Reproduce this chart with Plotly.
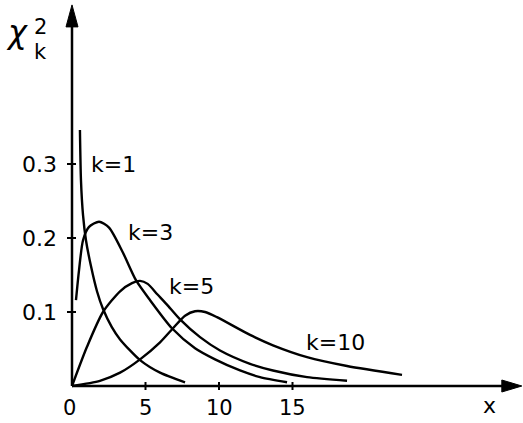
import plotly.graph_objects as go

# Chi-squared densities for k = 1, 3, 5, 10
k1_x = [0.54, 0.61, 0.75, 0.95, 1.29, 1.70, 2.11, 2.70, 3.27, 4.63, 5.99, 7.69]
k1_y = [0.346, 0.278, 0.231, 0.197, 0.162, 0.128, 0.104, 0.080, 0.063, 0.035, 0.018, 0.005]

k3_x = [0.27, 0.48, 0.75, 1.16, 1.84, 2.52, 3.47, 4.35, 5.31, 6.80, 8.37, 9.73, 11.43, 12.79, 14.63]
k3_y = [0.116, 0.157, 0.197, 0.215, 0.222, 0.214, 0.180, 0.143, 0.116, 0.078, 0.051, 0.036, 0.021, 0.012, 0.005]

k5_x = [0.0, 1.02, 2.11, 3.27, 4.08, 4.63, 5.15, 5.80, 6.46, 7.35, 8.71, 10.07, 12.11, 13.67, 15.99, 18.71]
k5_y = [0.0, 0.053, 0.100, 0.128, 0.139, 0.142, 0.138, 0.124, 0.110, 0.090, 0.066, 0.048, 0.030, 0.021, 0.012, 0.007]

k10_x = [0.0, 1.90, 3.27, 4.63, 5.99, 6.87, 7.69, 8.37, 9.05, 9.86, 12.11, 13.67, 15.99, 18.71, 22.45]
k10_y = [0.0, 0.007, 0.018, 0.036, 0.059, 0.078, 0.095, 0.101, 0.100, 0.093, 0.069, 0.055, 0.039, 0.027, 0.015]

curves = [
    ("k=1", k1_x, k1_y, (2.79, 0.300)),
    ("k=3", k3_x, k3_y, (5.37, 0.208)),
    ("k=5", k5_x, k5_y, (8.10, 0.134)),
    ("k=10", k10_x, k10_y, (17.9, 0.059)),
]

x_ticks = [0, 5, 10, 15]
x_tick_labels = ["0", "5", "10", "15"]
y_ticks = [0.1, 0.2, 0.3]
y_tick_labels = ["0.1", "0.2", "0.3"]

# axis extents in data units
X_END = 30.6
Y_END = 0.515

# pixel scale of the drawing
PX_PER_X = 14.7
PX_PER_Y = 740.0
W, H = 523, 423
X0_PX, Y0_PX = 72, 386

FONT = "DejaVu Sans"
INK = "black"

fig = go.Figure()

for name, xs, ys, _ in curves:
    fig.add_trace(go.Scatter(
        x=xs, y=ys, mode="lines", name=name,
        line=dict(color=INK, width=2.4, shape="spline", smoothing=0.7),
        hoverinfo="skip", showlegend=False,
    ))

shapes = []
# axes
shapes.append(dict(type="line", xref="x", yref="y", x0=0, y0=0, x1=X_END - 0.8, y1=0,
                   line=dict(color=INK, width=2.5)))
shapes.append(dict(type="line", xref="x", yref="y", x0=0, y0=0, x1=0, y1=Y_END - 0.02,
                   line=dict(color=INK, width=2.5)))
# arrowheads (pixel-sized, anchored at axis tips)
shapes.append(dict(type="path", xref="x", yref="y", xsizemode="pixel", ysizemode="pixel",
                   xanchor=X_END, yanchor=0,
                   path="M 0 0 L -20 6 L -20 -6 Z", fillcolor=INK, line=dict(color=INK, width=1)))
shapes.append(dict(type="path", xref="x", yref="y", xsizemode="pixel", ysizemode="pixel",
                   xanchor=0, yanchor=Y_END,
                   path="M 0 0 L -6 -22 L 6 -22 Z", fillcolor=INK, line=dict(color=INK, width=1)))
# tick marks
for t in y_ticks:
    shapes.append(dict(type="line", xref="x", yref="y", xsizemode="pixel", xanchor=0,
                       x0=-5, x1=4, y0=t, y1=t, line=dict(color=INK, width=2)))
for t in x_ticks[1:]:
    shapes.append(dict(type="line", xref="x", yref="y", ysizemode="pixel", yanchor=0,
                       y0=-4, y1=4, x0=t, x1=t, line=dict(color=INK, width=2)))

annotations = []
for t, lab in zip(y_ticks, y_tick_labels):
    annotations.append(dict(x=0, y=t, xref="x", yref="y", text=lab, showarrow=False,
                            xanchor="right", yanchor="middle", xshift=-13,
                            font=dict(family=FONT, size=22, color=INK)))
for t, lab in zip(x_ticks, x_tick_labels):
    annotations.append(dict(x=t, y=0, xref="x", yref="y", text=lab, showarrow=False,
                            xanchor="center", yanchor="top", yshift=-8,
                            xshift=-3 if t == 0 else 0,
                            font=dict(family=FONT, size=21, color=INK)))
for name, _, _, (lx, ly) in curves:
    annotations.append(dict(x=lx, y=ly, xref="x", yref="y", text=name, showarrow=False,
                            xanchor="center", yanchor="middle",
                            font=dict(family=FONT, size=22, color=INK)))
# axis titles
annotations.append(dict(x=28.4, y=-0.026, xref="x", yref="y", text="x", showarrow=False,
                        font=dict(family=FONT, size=22, color=INK)))
annotations.append(dict(x=-3.74, y=0.478, xref="x", yref="y", text="<i>χ</i>", showarrow=False,
                        font=dict(family=FONT, size=32, color=INK)))
annotations.append(dict(x=-2.15, y=0.485, xref="x", yref="y", text="2", showarrow=False,
                        font=dict(family=FONT, size=21, color=INK)))
annotations.append(dict(x=-2.15, y=0.452, xref="x", yref="y", text="k", showarrow=False,
                        font=dict(family=FONT, size=21, color=INK)))

fig.update_layout(
    width=W, height=H,
    margin=dict(l=0, r=0, t=0, b=0),
    paper_bgcolor="white", plot_bgcolor="white",
    xaxis=dict(visible=False, range=[-X0_PX / PX_PER_X, (W - X0_PX) / PX_PER_X], fixedrange=True),
    yaxis=dict(visible=False, range=[-(H - Y0_PX) / PX_PER_Y, Y0_PX / PX_PER_Y], fixedrange=True),
    shapes=shapes, annotations=annotations,
)

fig.write_html("out.html")
